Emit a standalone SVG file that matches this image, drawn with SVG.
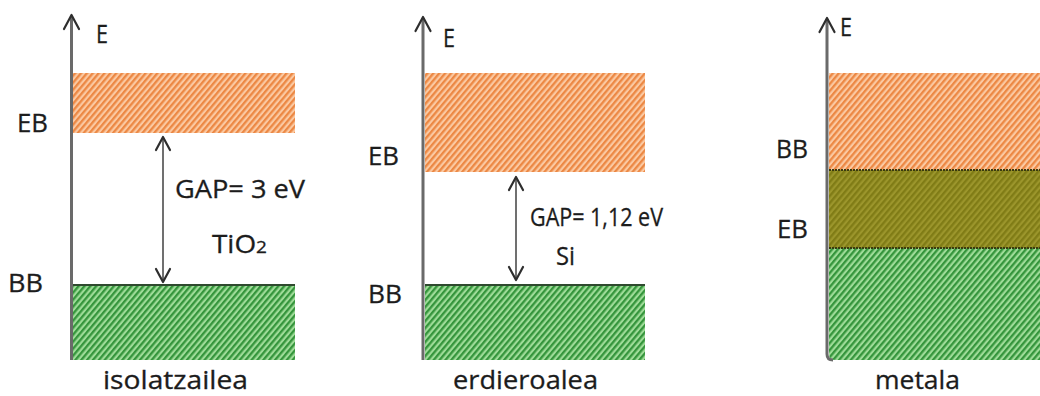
<svg xmlns="http://www.w3.org/2000/svg" width="1040" height="396" viewBox="0 0 1040 396">
  <defs>
    <pattern id="hatch-orange" patternUnits="userSpaceOnUse" width="4.5" height="4.5" patternTransform="rotate(40)">
      <rect width="4.5" height="4.5" fill="#fbc9a2"/>
      <rect width="2.3" height="4.5" fill="#ec8844"/>
    </pattern>
    <pattern id="hatch-green" patternUnits="userSpaceOnUse" width="4.5" height="4.5" patternTransform="rotate(40)">
      <rect width="4.5" height="4.5" fill="#9edc98"/>
      <rect width="2.3" height="4.5" fill="#35953c"/>
    </pattern>
    <pattern id="hatch-olive" patternUnits="userSpaceOnUse" width="4.5" height="4.5" patternTransform="rotate(40)">
      <rect width="4.5" height="4.5" fill="#9c962c"/>
      <rect width="2.3" height="4.5" fill="#807c16"/>
    </pattern>
  </defs>
  <style>
    .lbl { font-family: "Open Sans", "Liberation Sans", sans-serif; font-size: 25px; fill: #1c1c1c; stroke: #1c1c1c; stroke-width: 0.3; }
    .axis { stroke: #6a6a6a; stroke-width: 3; fill: none; }
    .head { stroke: #2e2e2e; stroke-width: 2.2; fill: none; stroke-linecap: round; stroke-linejoin: round; }
    .gap { stroke: #707070; stroke-width: 2; fill: none; }
    .edge { stroke: #2f4a2f; stroke-width: 2; }
    .edge-dot { stroke: #3a3a10; stroke-width: 2; stroke-dasharray: 2 1; }
  </style>

  <!-- insulator panel -->
  <g id="isolatzailea">
    <rect x="73" y="73" width="222" height="60" fill="url(#hatch-orange)"/>
    <rect x="73" y="285" width="222" height="75" fill="url(#hatch-green)"/>
    <line class="edge" x1="73" y1="285" x2="295" y2="285"/>
    <text class="lbl" x="96" y="43" textLength="12" lengthAdjust="spacingAndGlyphs">E</text>
    <text class="lbl" x="17" y="132" textLength="31" lengthAdjust="spacingAndGlyphs">EB</text>
    <text class="lbl" x="8" y="292" textLength="35" lengthAdjust="spacingAndGlyphs">BB</text>
    <text class="lbl" x="175" y="198" textLength="130" lengthAdjust="spacingAndGlyphs">GAP= 3 eV</text>
    <text class="lbl" x="212" y="253" textLength="55" lengthAdjust="spacingAndGlyphs">TiO<tspan font-size="17">2</tspan></text>
    <text class="lbl" x="103" y="389" textLength="145" lengthAdjust="spacingAndGlyphs">isolatzailea</text>
  </g>

  <!-- semiconductor panel -->
  <g id="erdieroalea">
    <rect x="425" y="73" width="220" height="99" fill="url(#hatch-orange)"/>
    <rect x="425" y="285" width="220" height="75" fill="url(#hatch-green)"/>
    <line class="edge" x1="425" y1="285" x2="645" y2="285"/>
    <text class="lbl" x="443" y="47" textLength="12" lengthAdjust="spacingAndGlyphs">E</text>
    <text class="lbl" x="368" y="165" textLength="31" lengthAdjust="spacingAndGlyphs">EB</text>
    <text class="lbl" x="368" y="303" textLength="34" lengthAdjust="spacingAndGlyphs">BB</text>
    <text class="lbl" x="530" y="226" textLength="133" lengthAdjust="spacingAndGlyphs">GAP= 1,12 eV</text>
    <text class="lbl" x="556" y="265" textLength="19" lengthAdjust="spacingAndGlyphs">Si</text>
    <text class="lbl" x="453" y="389" textLength="145" lengthAdjust="spacingAndGlyphs">erdieroalea</text>
  </g>

  <!-- metal panel -->
  <g id="metala">
    <rect x="829" y="73" width="211" height="97" fill="url(#hatch-orange)"/>
    <rect x="829" y="170" width="211" height="78" fill="url(#hatch-olive)"/>
    <path d="M829 248 H1040 V360 H835 Q829 360 829 354 Z" fill="url(#hatch-green)"/>
    <line class="edge-dot" x1="829" y1="170" x2="1040" y2="170"/>
    <line class="edge-dot" x1="829" y1="248" x2="1040" y2="248"/>
    <text class="lbl" x="840" y="36" textLength="12" lengthAdjust="spacingAndGlyphs">E</text>
    <text class="lbl" x="776" y="158" textLength="32" lengthAdjust="spacingAndGlyphs">BB</text>
    <text class="lbl" x="777" y="238" textLength="31" lengthAdjust="spacingAndGlyphs">EB</text>
    <text class="lbl" x="875" y="389" textLength="85" lengthAdjust="spacingAndGlyphs">metala</text>
  </g>

  <!-- energy axes and gap arrows -->
  <g id="connectors">
    <line class="axis" x1="71.5" y1="16" x2="71.5" y2="360"/>
    <polyline class="head" points="64,29 71.5,15 79,29"/>
    <line class="axis" x1="423" y1="18" x2="423" y2="360"/>
    <polyline class="head" points="415.5,31 423,17 430.5,31"/>
    <path class="axis" d="M827 19 V354 Q827 360 833 360"/>
    <polyline class="head" points="819.5,32 827,18 834.5,32"/>

    <line class="gap" x1="163" y1="138" x2="163" y2="281"/>
    <polyline class="head" points="156,150 163,137 170,150"/>
    <polyline class="head" points="156,269 163,282 170,269"/>

    <line class="gap" x1="516" y1="178" x2="516" y2="279"/>
    <polyline class="head" points="509,190 516,177 523,190"/>
    <polyline class="head" points="509,267 516,280 523,267"/>
  </g>
</svg>
